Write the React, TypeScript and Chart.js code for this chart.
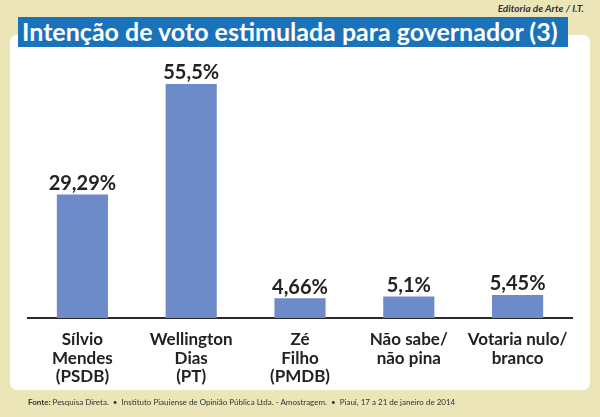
import React, { useEffect, useRef } from "react";
import { Chart, registerables } from "chart.js";

Chart.register(...registerables);

const categories: string[][] = [
  ["Sílvio", "Mendes", "(PSDB)"],
  ["Wellington", "Dias", "(PT)"],
  ["Zé", "Filho", "(PMDB)"],
  ["Não sabe/", "não pina"],
  ["Votaria nulo/", "branco"],
];
const values: number[] = [29.29, 55.5, 4.66, 5.1, 5.45];
const valueLabels: string[] = ["29,29%", "55,5%", "4,66%", "5,1%", "5,45%"];

const FONT = "Lato, 'Open Sans', sans-serif";

const dataLabelPlugin = {
  id: "dataLabels",
  afterDatasetsDraw(chart: any) {
    const ctx = chart.ctx;
    const meta = chart.getDatasetMeta(0);
    ctx.save();
    ctx.fillStyle = "#222222";
    ctx.font = `bold 20px ${FONT}`;
    ctx.textAlign = "center";
    ctx.textBaseline = "bottom";
    meta.data.forEach((bar: any, i: number) => {
      ctx.fillText(valueLabels[i], bar.x, bar.y - 1);
    });
    ctx.restore();
  },
};

export default function App() {
  const ref = useRef<HTMLCanvasElement>(null);
  useEffect(() => {
    if (!ref.current) return;
    const chart = new Chart(ref.current, {
      type: "bar",
      data: {
        labels: categories,
        datasets: [
          {
            data: values,
            backgroundColor: "#6d8bc9",
            borderWidth: 0,
            barPercentage: 0.47,
            categoryPercentage: 1,
          },
        ],
      },
      options: {
        responsive: false,
        animation: false,
        layout: { padding: { left: 28, right: 28, top: 65, bottom: 0 } },
        plugins: { legend: { display: false }, tooltip: { enabled: false }, title: { display: false } },
        scales: {
          x: {
            grid: { display: false },
            border: { display: true, color: "#2a2a2a", width: 2 },
            ticks: {
              color: "#222222",
              font: { family: FONT, size: 17, weight: "bold", lineHeight: 1.1 },
              padding: 4,
              maxRotation: 0,
              autoSkip: false,
            },
            afterFit: (scale: any) => {
              scale.height = 99;
            },
          },
          y: { display: false, min: 0, max: 60 },
        },
      },
      plugins: [dataLabelPlugin],
    });
    return () => chart.destroy();
  }, []);

  return (
    <div style={{ position: "absolute", left: 0, top: 0, width: 600, height: 417, background: "#ebe5b8", overflow: "hidden", fontFamily: FONT }}>
      <div style={{ position: "absolute", left: 10, top: 35, width: 580, height: 355, background: "#ffffff", borderRadius: 7 }} />
      <div style={{ position: "absolute", right: 16, top: 2, fontSize: 10, fontStyle: "italic", fontWeight: "bold", color: "#333" }}>Editoria de Arte / I.T.</div>
      <div style={{ position: "absolute", left: 18, top: 17, width: 550, height: 30, background: "#1a72bb" }} />
      <div style={{ position: "absolute", left: 22, top: 15, fontSize: 25, fontWeight: "bold", color: "#ffffff", whiteSpace: "nowrap", lineHeight: "32px" }}>Intenção de voto estimulada para governador (3)</div>
      <canvas ref={ref} width={600} height={417} style={{ position: "absolute", left: 0, top: 0, width: 600, height: 417 }} />
      <div style={{ position: "absolute", left: 28, top: 397, fontSize: 8, color: "#333", whiteSpace: "nowrap" }}>
        <b>Fonte:</b> Pesquisa Direta. &nbsp;•&nbsp; Instituto Piauiense de Opinião Pública Ltda. - Amostragem. &nbsp;•&nbsp; Piauí, 17 a 21 de janeiro de 2014
      </div>
    </div>
  );
}
